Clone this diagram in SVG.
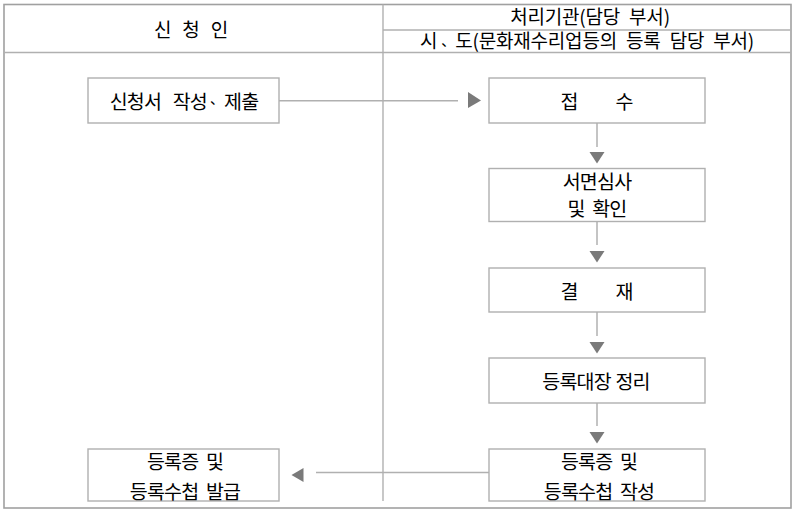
<svg xmlns="http://www.w3.org/2000/svg" width="800" height="513" viewBox="0 0 800 513">
<style>
.frame{fill:none;stroke:#a0a0a0;stroke-width:1.6}
.grid{fill:none;stroke:#b0b0b0;stroke-width:1.4}
.box{fill:#fff;stroke:#b0b0b0;stroke-width:1.4}
.ln{fill:none;stroke:#b0b0b0;stroke-width:1.5}
.head{fill:#7a7a7a}
text{font-family:"Noto Sans CJK KR","Noto Sans",sans-serif;font-size:19.5px;font-weight:400;letter-spacing:-0.8px;word-spacing:4px;fill:#000;text-anchor:middle}
.hd{font-size:19px;letter-spacing:-0.2px}
.dot{font-size:14px;letter-spacing:0}
</style>
<rect width="800" height="513" fill="#fff"/>
<g id="table">
<rect class="frame" x="4" y="4.5" width="787" height="503.5"/>
<line class="grid" x1="4" y1="52.5" x2="791" y2="52.5"/>
<line class="grid" x1="383" y1="30" x2="791" y2="30"/>
<line class="grid" x1="383" y1="4.5" x2="383" y2="501"/>
<text class="hd" x="191" y="37" style="word-spacing:7px">신 청 인</text>
<text class="hd" x="590" y="23.5" style="word-spacing:5px">처리기관(담당 부서)</text>
<text class="hd" x="587" y="48" style="word-spacing:5px">시<tspan class="dot" dx="4" dy="-2">、</tspan><tspan dy="2">도(문화재수리업등의 등록 담당 부서)</tspan></text>
</g>
<g id="connectors">
<line class="ln" x1="279" y1="100.7" x2="458" y2="100.7"/>
<polygon class="head" points="468,92 481,100.5 468,108"/>
<line class="ln" x1="597" y1="123" x2="597" y2="147"/>
<polygon class="head" points="589.5,152 604.5,152 597,163.5"/>
<line class="ln" x1="597" y1="221" x2="597" y2="245"/>
<polygon class="head" points="589.5,251 604.5,251 597,262.5"/>
<line class="ln" x1="597" y1="312" x2="597" y2="336"/>
<polygon class="head" points="589.5,342 604.5,342 597,353.5"/>
<line class="ln" x1="597" y1="403" x2="597" y2="426"/>
<polygon class="head" points="589.5,432 604.5,432 597,443.5"/>
<line class="ln" x1="489" y1="472.5" x2="316" y2="472.5"/>
<polygon class="head" points="303.5,468 291.5,475 303.5,482"/>
</g>
<g id="n1">
<rect class="box" x="88" y="78" width="191" height="45"/>
<text x="184" y="109" style="word-spacing:8px">신청서 작성<tspan class="dot" dx="3" dy="-5">、</tspan><tspan dy="5">제출</tspan></text>
</g>
<g id="n2">
<rect class="box" x="489" y="78" width="216" height="45"/>
<text><tspan x="569" y="109">접</tspan><tspan x="624" y="109">수</tspan></text>
</g>
<g id="n3">
<rect class="box" x="489" y="168.5" width="216" height="53"/>
<text x="597" y="189">서면심사</text>
<text x="597" y="216">및 확인</text>
</g>
<g id="n4">
<rect class="box" x="489" y="268" width="216" height="44"/>
<text><tspan x="569" y="299">결</tspan><tspan x="624" y="299">재</tspan></text>
</g>
<g id="n5">
<rect class="box" x="489" y="358" width="216" height="45"/>
<text x="596" y="389" style="word-spacing:1px">등록대장 정리</text>
</g>
<g id="n6">
<rect class="box" x="489" y="449" width="216" height="52"/>
<text x="599" y="469">등록증 및</text>
<text x="599" y="499">등록수첩 작성</text>
</g>
<g id="n7">
<rect class="box" x="88" y="449" width="191" height="52"/>
<text x="185" y="469">등록증 및</text>
<text x="185" y="499">등록수첩 발급</text>
</g>
</svg>
